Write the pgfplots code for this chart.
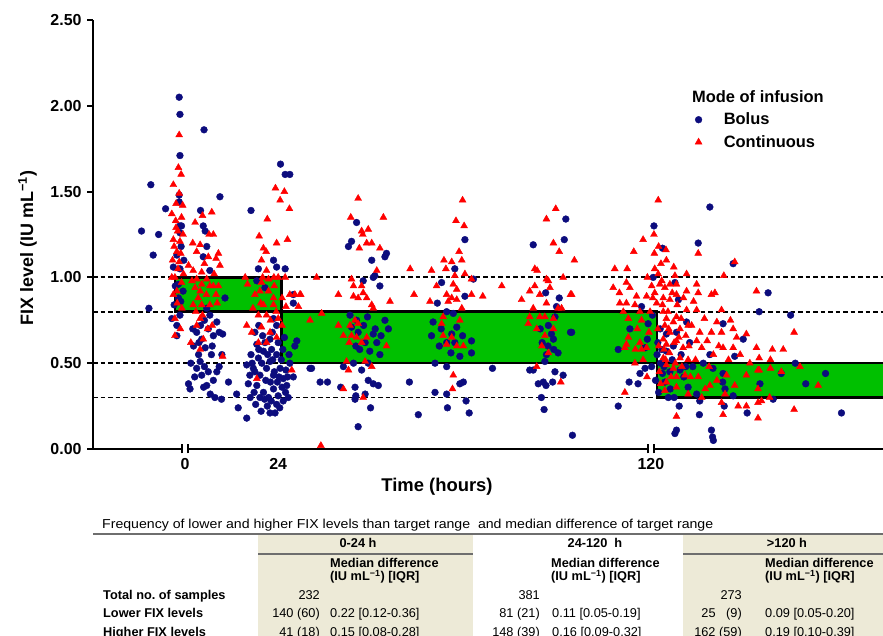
\documentclass[border=0pt]{standalone}
\usepackage{pgfplots}
\usepackage{pgfplotstable}
\pgfplotsset{compat=1.18}
\usepackage{fontspec}
\setmainfont{Liberation Sans}

\definecolor{bolus}{RGB}{12,12,125}
\definecolor{cont}{RGB}{255,0,0}
\definecolor{boxgreen}{RGB}{0,192,0}
\definecolor{band}{RGB}{237,234,215}
\definecolor{rulegrey}{RGB}{110,110,110}

% FIX level (IU/mL) against time (hours), bolus infusion
\pgfplotstableread{
t y
-1.5 2.05
-1.3 1.95
4.9 1.86
-1.3 1.71
-8.8 1.54
9.0 1.47
-5.0 1.40
4.0 1.39
17.0 1.39
-11.2 1.27
-6.8 1.25
-8.2 1.13
-1.5 1.44
-1.5 1.48
-1.3 1.30
-0.9 1.30
-1.3 1.26
5.2 1.27
4.7 1.30
5.6 1.18
4.7 1.12
-2.1 1.13
-3.0 1.06
-1.3 1.05
6.4 1.04
-1.7 0.96
-1.7 0.88
-1.1 0.86
10.3 0.88
-9.3 0.82
-3.4 0.76
-2.1 0.72
-1.3 0.78
-2.1 0.66
-2.5 0.95
-0.5 0.92
-1.0 1.18
-2.8 0.84
-0.3 1.10
5.6 0.82
6.4 0.78
8.2 0.74
8.8 0.68
3.0 0.68
4.3 0.64
7.3 0.66
9.7 0.67
5.2 0.59
3.9 0.51
3.0 0.47
4.3 0.43
6.0 0.45
8.2 0.45
0.9 0.38
1.3 0.35
5.6 0.37
7.3 0.40
11.2 0.39
7.7 0.30
9.4 0.29
13.3 0.32
13.7 0.24
15.9 0.18
3.5 0.55
5.0 0.48
6.8 0.55
2.2 0.60
4.0 0.72
6.0 0.70
9.5 0.55
8.8 0.48
2.5 0.42
4.8 0.36
6.5 0.32
2.0 0.70
3.6 0.62
7.0 0.60
5.0 0.75
1.5 0.50
15.9 0.49
17.6 0.47
18.9 0.53
19.3 0.43
20.2 0.57
21.0 0.47
21.9 0.51
22.8 0.43
23.6 0.55
24.5 0.47
25.3 0.41
26.2 0.37
18.5 0.37
20.2 0.33
21.5 0.30
22.8 0.35
24.0 0.31
25.3 0.28
21.9 0.21
23.2 0.21
23.6 0.26
26.6 0.30
19.3 0.30
16.7 0.43
18.5 0.61
21.9 0.64
23.6 0.72
22.8 0.76
20.6 0.94
18.5 0.98
18.9 1.05
23.6 1.06
22.8 1.10
25.8 1.05
24.6 1.66
25.8 1.60
27.0 1.60
27.9 0.90
27.9 0.85
28.8 0.63
28.3 0.60
32.2 0.47
27.9 0.42
17.0 0.55
19.8 0.50
22.3 0.58
24.8 0.52
20.8 0.40
23.0 0.45
25.0 0.36
17.8 0.33
21.2 0.25
24.4 0.24
26.0 0.46
20.0 0.66
22.5 0.68
19.0 0.72
24.0 0.62
26.8 0.55
25.6 0.65
18.0 0.45
16.3 0.38
22.0 0.39
16.8 0.30
18.2 0.26
19.6 0.22
20.5 0.29
22.2 0.28
23.8 0.39
25.9 0.33
17.3 0.50
19.0 0.58
21.3 0.55
24.2 0.42
26.4 0.42
22.6 0.52
20.6 0.62
18.0 0.68
25.2 0.58
27.0 0.50
44.2 1.32
42.9 1.21
42.1 1.18
51.9 1.14
51.5 1.12
48.1 1.10
48.9 1.01
48.5 1.00
45.9 0.98
50.2 0.95
42.5 0.78
42.9 0.71
44.2 0.75
51.5 0.75
52.4 0.70
44.6 0.68
48.5 0.67
49.4 0.62
46.4 0.62
50.2 0.55
47.6 0.57
47.2 0.50
43.4 0.50
32.6 0.47
45.5 0.46
40.8 0.48
34.8 0.39
36.7 0.39
40.1 0.36
43.8 0.36
47.2 0.40
48.5 0.38
49.8 0.37
46.4 0.32
43.8 0.29
44.0 0.31
47.8 0.24
44.6 0.13
57.8 0.39
60.1 0.20
45.0 0.58
46.0 0.72
49.0 0.70
50.5 0.66
47.0 0.77
44.0 0.60
69.5 1.05
72.1 1.22
74.3 0.99
66.1 0.97
65.0 0.85
72.1 0.89
69.1 0.79
67.4 0.80
63.9 0.74
70.0 0.71
63.5 0.66
68.7 0.67
67.4 0.62
73.8 0.63
73.8 0.56
70.8 0.54
64.4 0.50
67.4 0.48
70.8 0.38
71.7 0.39
64.4 0.33
67.4 0.32
72.4 0.28
67.6 0.24
73.2 0.21
79.2 0.47
66.0 0.70
68.5 0.56
69.5 0.62
71.5 0.66
65.5 0.60
98.1 1.34
89.7 1.19
97.7 1.22
92.9 0.91
96.4 0.88
95.7 0.83
95.3 0.77
93.6 0.72
94.4 0.67
94.9 0.64
99.3 0.68
96.1 0.56
93.1 0.55
92.7 0.51
88.8 0.46
89.7 0.46
95.3 0.45
97.4 0.43
91.0 0.38
92.3 0.39
93.0 0.37
94.7 0.39
91.8 0.30
92.5 0.23
99.8 0.08
92.0 0.62
93.5 0.60
95.0 0.58
91.5 0.70
135.2 1.41
120.8 1.30
132.2 1.20
123.0 1.17
141.2 1.08
120.6 1.00
126.2 0.97
127.1 0.87
147.9 0.80
150.2 0.91
99.6 0.68
114.6 0.70
119.3 0.73
120.4 0.78
117.6 0.83
111.6 0.58
118.5 0.59
119.1 0.64
118.5 0.47
117.2 0.44
120.2 0.48
114.4 0.39
116.7 0.38
111.6 0.25
124.0 0.67
124.0 0.57
126.6 0.68
129.2 0.74
130.0 0.62
124.9 0.45
123.6 0.39
127.5 0.46
129.6 0.36
131.8 0.32
135.2 0.55
138.6 0.73
138.6 0.44
138.5 0.39
139.1 0.35
141.2 0.31
141.6 0.54
143.8 0.64
148.1 0.38
127.3 0.25
132.6 0.28
132.5 0.20
138.9 0.25
144.8 0.21
126.6 0.11
126.2 0.09
135.6 0.11
135.9 0.07
136.1 0.05
122.5 0.50
123.0 0.44
125.5 0.52
122.8 0.58
121.8 0.62
125.0 0.35
128.5 0.42
130.8 0.48
133.5 0.50
136.0 0.47
121.2 0.40
121.6 0.55
122.4 0.70
123.4 0.48
125.8 0.60
127.8 0.55
129.0 0.48
126.0 0.30
122.0 0.33
124.5 0.30
156.0 0.78
157.2 0.50
153.6 0.44
165.0 0.44
159.9 0.38
151.5 0.29
169.1 0.21
}\bolustab

% continuous infusion
\pgfplotstableread{
t y
-1.5 1.83
-1.7 1.64
-1.0 1.60
-3.0 1.54
-1.5 1.49
-2.3 1.43
-3.4 1.37
-0.9 1.35
-2.3 1.29
-3.0 1.22
-1.3 1.21
-2.1 1.15
-1.1 1.14
-3.2 1.10
-1.5 1.09
-2.6 1.00
-3.4 1.00
-0.9 0.97
-2.1 0.92
-2.6 0.76
-2.6 0.66
-0.5 1.25
-2.8 1.18
-1.8 1.05
-0.4 1.02
-2.0 0.85
-0.8 0.82
-3.0 0.90
-1.2 0.70
-2.4 1.33
-0.6 1.42
-1.9 1.27
2.6 1.32
4.5 1.36
6.9 1.38
7.3 1.25
3.9 1.19
3.0 1.15
8.6 1.14
8.0 1.11
9.0 1.07
0.9 1.07
2.1 1.04
4.3 1.03
3.0 0.99
5.6 0.99
2.6 0.94
4.3 0.96
6.4 0.95
8.6 0.95
7.3 0.95
3.9 0.92
3.4 0.88
2.1 0.84
4.3 0.84
6.4 0.84
8.3 0.85
3.9 0.76
4.5 0.78
3.0 0.72
1.5 0.62
3.9 0.58
9.7 0.54
4.7 0.64
5.0 1.08
6.0 1.12
2.0 1.20
7.5 1.02
5.5 0.90
1.8 0.98
7.0 0.72
5.8 0.70
2.8 0.80
6.2 1.25
8.0 0.90
23.3 1.52
25.6 1.50
24.5 1.45
26.9 1.40
21.2 1.34
19.1 1.24
23.6 1.20
26.4 1.22
20.2 1.17
20.9 1.15
19.7 1.10
21.0 1.04
15.5 1.00
19.7 0.97
21.5 0.99
22.9 1.00
24.0 1.00
25.8 1.00
16.1 0.96
19.3 0.92
21.5 0.92
22.8 0.88
20.2 0.84
18.9 0.78
21.0 0.78
22.8 0.84
15.9 0.72
17.2 0.68
19.7 0.71
21.9 0.68
24.0 0.76
18.9 0.62
21.0 0.62
27.0 0.90
28.3 0.90
29.8 0.90
29.2 0.83
18.5 0.41
27.5 0.46
23.6 0.65
18.0 0.90
20.0 1.00
23.0 0.95
25.0 0.88
17.5 0.82
19.5 0.85
23.5 0.80
25.0 0.72
22.0 0.75
26.0 0.83
44.6 1.46
42.7 1.35
51.1 1.35
47.2 1.28
45.5 1.27
45.8 1.25
46.8 1.20
48.1 1.20
44.9 1.17
50.2 1.17
49.4 1.04
33.9 1.00
42.9 0.99
43.4 0.95
45.5 0.95
45.9 0.91
39.5 0.90
43.4 0.89
44.6 0.88
46.8 0.88
52.8 0.86
48.1 0.84
48.5 0.82
32.2 0.75
35.2 0.79
39.5 0.72
42.5 0.72
43.8 0.75
44.6 0.73
40.8 0.66
42.9 0.66
44.2 0.65
45.5 0.62
46.8 0.65
51.9 0.60
42.3 0.62
41.6 0.51
42.1 0.46
46.4 0.51
48.1 0.48
40.8 0.35
45.9 0.30
29.6 0.90
58.0 1.05
59.0 0.90
63.5 1.04
35.0 0.02
71.5 1.45
69.8 1.33
71.9 1.30
70.6 1.15
66.7 1.10
68.7 1.09
71.3 1.10
67.2 1.05
69.5 1.01
72.1 1.02
73.8 0.99
64.8 0.95
69.1 0.96
70.0 0.93
67.4 0.90
68.7 0.88
70.0 0.87
67.8 0.86
73.8 0.90
76.7 0.89
63.1 0.86
66.5 0.77
66.1 0.73
71.3 0.82
70.8 0.75
66.5 0.66
68.7 0.65
70.0 0.60
71.7 0.60
67.4 0.61
69.1 0.43
68.9 0.35
81.6 0.95
95.5 1.40
93.1 1.34
94.9 1.20
96.4 1.15
100.3 1.10
90.1 1.05
90.7 1.04
93.1 0.99
97.4 1.00
93.6 0.98
94.0 0.94
90.1 0.95
88.8 0.92
91.4 0.90
99.3 0.90
86.7 0.87
93.1 0.85
89.7 0.82
96.1 0.82
97.0 0.82
88.8 0.77
91.4 0.77
92.7 0.77
94.9 0.76
88.4 0.73
90.6 0.70
94.9 0.70
92.7 0.66
91.9 0.60
93.6 0.56
90.6 0.48
96.8 0.39
99.6 0.90
121.9 1.45
118.0 1.22
120.8 1.25
115.6 1.15
120.9 1.14
123.9 1.16
124.0 1.10
110.7 1.05
113.9 1.05
119.1 1.00
121.9 1.02
125.9 1.06
126.2 1.01
129.2 1.02
132.2 1.14
138.8 1.01
141.6 1.09
110.3 0.94
111.9 0.91
113.7 0.97
114.6 0.94
116.3 0.89
112.0 0.85
113.7 0.85
115.9 0.84
118.9 0.89
121.0 0.91
122.3 0.96
123.6 0.94
124.9 0.96
126.6 0.96
123.2 0.88
124.9 0.87
126.6 0.90
129.2 0.92
131.8 0.96
132.2 0.91
135.6 0.90
136.5 0.91
147.2 0.92
112.9 0.80
114.2 0.76
117.2 0.80
117.6 0.75
119.8 0.80
123.2 0.80
124.0 0.76
126.6 0.77
129.2 0.81
131.8 0.81
138.2 0.81
123.6 0.72
124.9 0.68
127.5 0.70
129.6 0.72
132.6 0.68
135.6 0.68
138.2 0.68
141.2 0.70
142.1 0.65
144.6 0.67
147.2 0.59
114.2 0.65
117.2 0.62
113.7 0.61
113.3 0.59
117.6 0.58
118.9 0.59
123.2 0.64
124.0 0.61
126.6 0.63
128.3 0.59
131.8 0.63
133.1 0.59
136.1 0.55
138.6 0.59
141.2 0.59
115.9 0.50
123.2 0.53
124.0 0.49
125.8 0.47
127.5 0.53
129.6 0.52
126.6 0.42
128.8 0.43
132.2 0.42
135.2 0.37
139.5 0.43
141.6 0.37
144.6 0.43
147.6 0.46
147.6 0.35
124.0 0.39
123.6 0.34
126.6 0.36
129.6 0.32
133.1 0.30
139.1 0.32
138.2 0.27
142.5 0.25
144.6 0.25
147.6 0.27
147.6 0.18
138.6 0.20
126.6 0.19
113.3 0.33
121.0 1.05
121.5 0.85
121.8 0.70
122.0 0.60
122.2 0.45
122.5 0.38
122.8 0.98
123.0 0.84
123.4 0.58
123.8 0.52
124.4 0.80
124.6 0.70
124.8 0.56
125.2 0.42
125.5 0.91
125.8 0.74
126.0 0.62
126.3 0.50
126.8 0.84
127.2 0.65
127.8 0.76
128.0 0.48
128.4 0.88
129.0 0.66
129.8 0.60
130.5 0.72
131.0 0.86
130.2 0.42
131.5 0.52
133.8 0.76
134.5 0.63
135.0 0.48
137.0 0.74
137.5 0.60
140.0 0.52
140.5 0.75
143.0 0.55
145.5 0.50
134.0 0.35
137.0 0.40
122.0 1.18
122.6 1.08
120.5 0.88
120.2 0.95
119.5 0.68
116.5 0.70
118.0 0.52
116.0 0.58
119.0 0.42
156.9 0.68
154.1 0.58
151.3 0.58
150.8 0.52
150.8 0.47
153.6 0.45
158.4 0.48
163.1 0.37
156.9 0.23
147.9 0.53
147.9 0.46
150.6 0.30
148.5 0.28
}\conttab

\begin{document}
\begin{tikzpicture}
\useasboundingbox (0,0) rectangle (883bp,636bp);
% table background
\fill[band] (258bp,-10bp) rectangle (473bp,102bp);
\fill[band] (683bp,-10bp) rectangle (895bp,102bp);
\draw[rulegrey, line width=1.5bp] (93bp,102bp) -- (883bp,102bp);
\draw[rulegrey, line width=1.2bp] (258bp,82bp) -- (473bp,82bp);
\draw[rulegrey, line width=1.2bp] (683bp,82bp) -- (883bp,82bp);

\begin{axis}[
    at={(93bp,187bp)}, anchor=south west,
    width=790bp, height=429bp, scale only axis,
    xmin=-23.7, xmax=179.8, ymin=0, ymax=2.5,
    axis x line=bottom, axis y line=left,
    axis line style={-, line width=2bp, black},
    xtick={0,24,120}, xticklabels={0,24,120},
    ytick={0,0.5,1,1.5,2,2.5},
    yticklabels={0.00,0.50,1.00,1.50,2.00,2.50},
    tick align=outside, major tick length=6bp,
    xtick style={draw=none},
    ytick style={line width=2bp, black},
    ticklabel style={font=\fontsize{16}{16}\selectfont\bfseries},
    yticklabel style={xshift=-2bp},
    /pgf/number format/assume math mode=true,
    legend style={at={(0.761,0.786)}, anchor=north west, draw=none, fill=none,
        inner sep=0pt, row sep=7bp, cells={anchor=west},
        nodes={inner sep=1bp},
        font=\fontsize{16.5}{16.5}\selectfont\bfseries},
    legend image code/.code={\draw[#1] plot coordinates {(0bp,0bp)}; \path (-4bp,0bp) (24bp,0bp);},
]
% target ranges
\addplot[black, line width=1.9bp, dash pattern=on 4.5bp off 3bp, forget plot] coordinates {(-23.7,1.0) (179.8,1.0)};
\addplot[black, line width=1.9bp, dash pattern=on 4.5bp off 3bp, forget plot] coordinates {(-23.7,0.8) (179.8,0.8)};
\addplot[black, line width=1.9bp, dash pattern=on 4.5bp off 3bp, forget plot] coordinates {(-23.7,0.5) (179.8,0.5)};
\addplot[black, line width=1.9bp, dash pattern=on 4.5bp off 3bp, forget plot] coordinates {(-23.7,0.3) (179.8,0.3)};
\addplot[fill=boxgreen, draw=black, line width=2.5bp, forget plot] coordinates {(-2.6,0.8) (24.9,0.8) (24.9,1.0) (-2.6,1.0)} -- cycle;
\addplot[fill=boxgreen, draw=black, line width=2.5bp, forget plot] coordinates {(24.9,0.5) (121.6,0.5) (121.6,0.8) (24.9,0.8)} -- cycle;
\addplot[fill=boxgreen, draw=black, line width=2.5bp, forget plot] coordinates {(121.6,0.3) (190,0.3) (190,0.5) (121.6,0.5)} -- cycle;
% samples
\addplot[only marks, mark=*, mark size=3.4bp, draw=bolus, fill=bolus] table[x=t, y=y] {\bolustab};
\addlegendentry{Bolus}
\addplot[only marks, mark=triangle*, mark size=4bp, draw=cont, fill=cont] table[x=t, y=y] {\conttab};
\addlegendentry{Continuous}
\coordinate (b0) at (axis cs:0,0);
\coordinate (b1) at (axis cs:120,0);
\end{axis}

% axis breaks
\foreach \c in {b0,b1} {
    \fill[white] ([xshift=-2.3bp,yshift=-1.5bp]\c) rectangle ([xshift=2.3bp,yshift=1.5bp]\c);
    \draw[line width=1.5bp] ([xshift=-3bp,yshift=-4.5bp]\c) -- ([xshift=-3bp,yshift=4.5bp]\c);
    \draw[line width=1.5bp] ([xshift=3bp,yshift=-4.5bp]\c) -- ([xshift=3bp,yshift=4.5bp]\c);
}

\node[anchor=base, inner sep=0pt, font=\fontsize{18.5}{18.5}\selectfont\bfseries] at (437bp,144bp) {Time (hours)};
\node[rotate=90, anchor=base, inner sep=0pt, font=\fontsize{18}{18}\selectfont\bfseries] at (33bp,388bp) {FIX level (IU mL\textsuperscript{−1})};
\node[anchor=base west, inner sep=0pt, font=\fontsize{16.5}{16.5}\selectfont\bfseries] at (692bp,533bp) {Mode of infusion};

% table
\begin{scope}[every node/.style={inner sep=0pt}, font=\fontsize{12.8}{12.8}\selectfont]
\node[anchor=base west, font=\fontsize{13}{13}\selectfont] at (102bp,107bp) {\scalebox{1.09}[1]{Frequency of lower and higher FIX levels than target range\ \ and median difference of target range}};
\node[anchor=base, font=\fontsize{12.8}{12.8}\selectfont\bfseries] at (358bp,88.3bp) {0-24 h};
\node[anchor=base, font=\fontsize{12.8}{12.8}\selectfont\bfseries] at (595bp,88.3bp) {24-120\ \ h};
\node[anchor=base, font=\fontsize{12.8}{12.8}\selectfont\bfseries] at (787bp,88.3bp) {>120 h};
\foreach \mx in {330,551,765} {
    \node[anchor=base west, font=\fontsize{12.8}{12.8}\selectfont\bfseries] at (\mx bp,68.5bp) {Median difference};
    \node[anchor=base west, font=\fontsize{12.8}{12.8}\selectfont\bfseries] at (\mx bp,55.5bp) {(IU mL\textsuperscript{−1}) [IQR]};
}
\node[anchor=base west, font=\fontsize{12.8}{12.8}\selectfont\bfseries] at (103bp,37bp) {Total no.\ of samples};
\node[anchor=base west, font=\fontsize{12.8}{12.8}\selectfont\bfseries] at (103bp,18.3bp) {Lower FIX levels};
\node[anchor=base west, font=\fontsize{12.8}{12.8}\selectfont\bfseries] at (103bp,-0.7bp) {Higher FIX levels};
\node[anchor=base east] at (320bp,37bp) {232};
\node[anchor=base east] at (320bp,18.3bp) {140 (60)};
\node[anchor=base east] at (320bp,-0.7bp) {41 (18)};
\node[anchor=base east] at (540bp,37bp) {381};
\node[anchor=base east] at (540bp,18.3bp) {81 (21)};
\node[anchor=base east] at (540bp,-0.7bp) {148 (39)};
\node[anchor=base east] at (742bp,37bp) {273};
\node[anchor=base east] at (742bp,18.3bp) {25\ \ \ (9)};
\node[anchor=base east] at (742bp,-0.7bp) {162 (59)};
\node[anchor=base west] at (330bp,18.3bp) {0.22 [0.12-0.36]};
\node[anchor=base west] at (330bp,-0.7bp) {0.15 [0.08-0.28]};
\node[anchor=base west] at (552bp,18.3bp) {0.11 [0.05-0.19]};
\node[anchor=base west] at (552bp,-0.7bp) {0.16 [0.09-0.32]};
\node[anchor=base west] at (765bp,18.3bp) {0.09 [0.05-0.20]};
\node[anchor=base west] at (765bp,-0.7bp) {0.19 [0.10-0.39]};
\end{scope}
\end{tikzpicture}
\end{document}
